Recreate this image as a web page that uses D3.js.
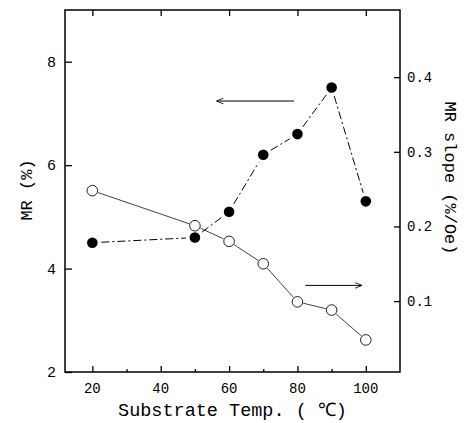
<!DOCTYPE html>
<html><head><meta charset="utf-8">
<script src="https://cdn.jsdelivr.net/npm/d3@7"></script>
<style>
html,body{margin:0;padding:0;background:#fff;}
svg{display:block;}
</style></head>
<body>
<svg id="chart" width="466" height="423"></svg>
<script>
// ---- data ----
const temps = [20, 50, 60, 70, 80, 90, 100];
const mrValues = [4.5, 4.6, 5.1, 6.2, 6.6, 7.5, 5.3];          // filled circles, left axis (%)
const slopeValues = [0.248, 0.201, 0.180, 0.150, 0.099, 0.088, 0.048]; // open circles, right axis (%/Oe)
const xTicks = [20, 40, 60, 80, 100];
const xMinorTicks = [30, 50, 70, 90];
const yLeftTicks = [2, 4, 6, 8];
const yRightTicks = [0.1, 0.2, 0.3, 0.4];
const yRightLabels = ["0.1", "0.2", "0.3", "0.4"];
const xTitle = "Substrate Temp. ( \u2103)";
const yLeftTitle = "MR (%)";
const yRightTitle = "MR slope (%/Oe)";
// annotation arrows: [x1, x2, y] in data units (arrow points from x1 toward x2)
const leftArrow = [79, 56.5, 7.24];
const rightArrow = [82.3, 98.7, 0.121];

// ---- layout ----
const svg = d3.select("#chart");
const L = 65, R = 400, T = 10, B = 372;
const x = d3.scaleLinear().domain([12, 110]).range([L, R]);
const yL = d3.scaleLinear().domain([2, 9]).range([B, T]);
const yR = d3.scaleLinear().domain([0.005, 0.49]).range([B, T]);
const mono = "'Liberation Mono', 'DejaVu Sans Mono', monospace";

svg.append("defs").append("marker")
  .attr("id", "ah").attr("viewBox", "0 0 10 10").attr("refX", 9).attr("refY", 5)
  .attr("markerWidth", 10).attr("markerHeight", 7).attr("markerUnits", "userSpaceOnUse")
  .attr("orient", "auto")
  .append("path").attr("d", "M0,1 L10,5 L0,9").attr("fill", "none").attr("stroke", "#000").attr("stroke-width", 1.2);

// frame
svg.append("rect").attr("x", L).attr("y", T).attr("width", R - L).attr("height", B - T)
  .attr("fill", "none").attr("stroke", "#000").attr("stroke-width", 1.5);

// axes using d3 axis generators (ticks inward)
svg.append("g").attr("transform", `translate(0,${B})`)
  .call(d3.axisTop(x).tickValues(xTicks).tickSize(6).tickFormat(""));
svg.append("g").attr("transform", `translate(0,${B})`)
  .call(d3.axisTop(x).tickValues(xMinorTicks).tickSize(3).tickFormat(""));
svg.append("g").attr("transform", `translate(0,${T})`)
  .call(d3.axisBottom(x).tickValues(xTicks).tickSize(6).tickFormat(""));
svg.append("g").attr("transform", `translate(${L},0)`)
  .call(d3.axisRight(yL).tickValues(yLeftTicks).tickSize(7).tickFormat(""));
svg.append("g").attr("transform", `translate(${R},0)`)
  .call(d3.axisLeft(yR).tickValues(yRightTicks).tickSize(6).tickFormat(""));
svg.selectAll(".domain").remove();
svg.selectAll(".tick line").attr("stroke", "#000").attr("stroke-width", 1.3);

// tick labels
svg.append("g").selectAll("text").data(xTicks).join("text")
  .attr("x", d => x(d)).attr("y", B + 21).attr("text-anchor", "middle")
  .attr("font-family", mono).attr("font-size", 14).text(d => d);
svg.append("g").selectAll("text").data(yLeftTicks).join("text")
  .attr("x", L - 9).attr("y", d => yL(d) + 5).attr("text-anchor", "end")
  .attr("font-family", mono).attr("font-size", 15).text(d => d);
svg.append("g").selectAll("text").data(yRightTicks).join("text")
  .attr("x", R + 7).attr("y", d => yR(d) + 5).attr("text-anchor", "start")
  .attr("font-family", mono).attr("font-size", 14).text((d, i) => yRightLabels[i]);

// titles
svg.append("text").attr("x", (L + R) / 2).attr("y", 416).attr("text-anchor", "middle")
  .attr("font-family", mono).attr("font-size", 18.5).text(xTitle);
svg.append("text").attr("transform", `translate(32,190) rotate(-90)`).attr("text-anchor", "middle")
  .attr("font-family", mono).attr("font-size", 17).text(yLeftTitle);
svg.append("text").attr("transform", `translate(445,178) rotate(90)`).attr("text-anchor", "middle")
  .attr("font-family", mono).attr("font-size", 17).text(yRightTitle);

// helper: segments with gaps at markers
function gappedSegments(pts, gap) {
  const segs = [];
  for (let i = 0; i < pts.length - 1; i++) {
    const [x1, y1] = pts[i], [x2, y2] = pts[i + 1];
    const dx = x2 - x1, dy = y2 - y1, len = Math.hypot(dx, dy);
    const ux = dx / len, uy = dy / len;
    segs.push([x1 + ux * gap, y1 + uy * gap, x2 - ux * gap, y2 - uy * gap]);
  }
  return segs;
}

const mrPts = temps.map((t, i) => [x(t), yL(mrValues[i])]);
const slPts = temps.map((t, i) => [x(t), yR(slopeValues[i])]);

svg.append("g").selectAll("line").data(gappedSegments(slPts, 6)).join("line")
  .attr("x1", d => d[0]).attr("y1", d => d[1]).attr("x2", d => d[2]).attr("y2", d => d[3])
  .attr("stroke", "#444").attr("stroke-width", 1);
svg.append("g").selectAll("line").data(gappedSegments(mrPts, 9)).join("line")
  .attr("x1", d => d[0]).attr("y1", d => d[1]).attr("x2", d => d[2]).attr("y2", d => d[3])
  .attr("stroke", "#000").attr("stroke-width", 1).attr("stroke-dasharray", "8,3,2,3");

svg.append("g").selectAll("circle").data(slPts).join("circle")
  .attr("cx", d => d[0]).attr("cy", d => d[1]).attr("r", 5.3)
  .attr("fill", "#fff").attr("stroke", "#222").attr("stroke-width", 1);
svg.append("g").selectAll("circle").data(mrPts).join("circle")
  .attr("cx", d => d[0]).attr("cy", d => d[1]).attr("r", 5.3)
  .attr("fill", "#000");

// arrows
svg.append("line").attr("x1", x(leftArrow[0])).attr("x2", x(leftArrow[1]))
  .attr("y1", yL(leftArrow[2])).attr("y2", yL(leftArrow[2]))
  .attr("stroke", "#000").attr("stroke-width", 1).attr("marker-end", "url(#ah)");
svg.append("line").attr("x1", x(rightArrow[0])).attr("x2", x(rightArrow[1]))
  .attr("y1", yR(rightArrow[2])).attr("y2", yR(rightArrow[2]))
  .attr("stroke", "#000").attr("stroke-width", 1).attr("marker-end", "url(#ah)");
</script>
</body></html>
